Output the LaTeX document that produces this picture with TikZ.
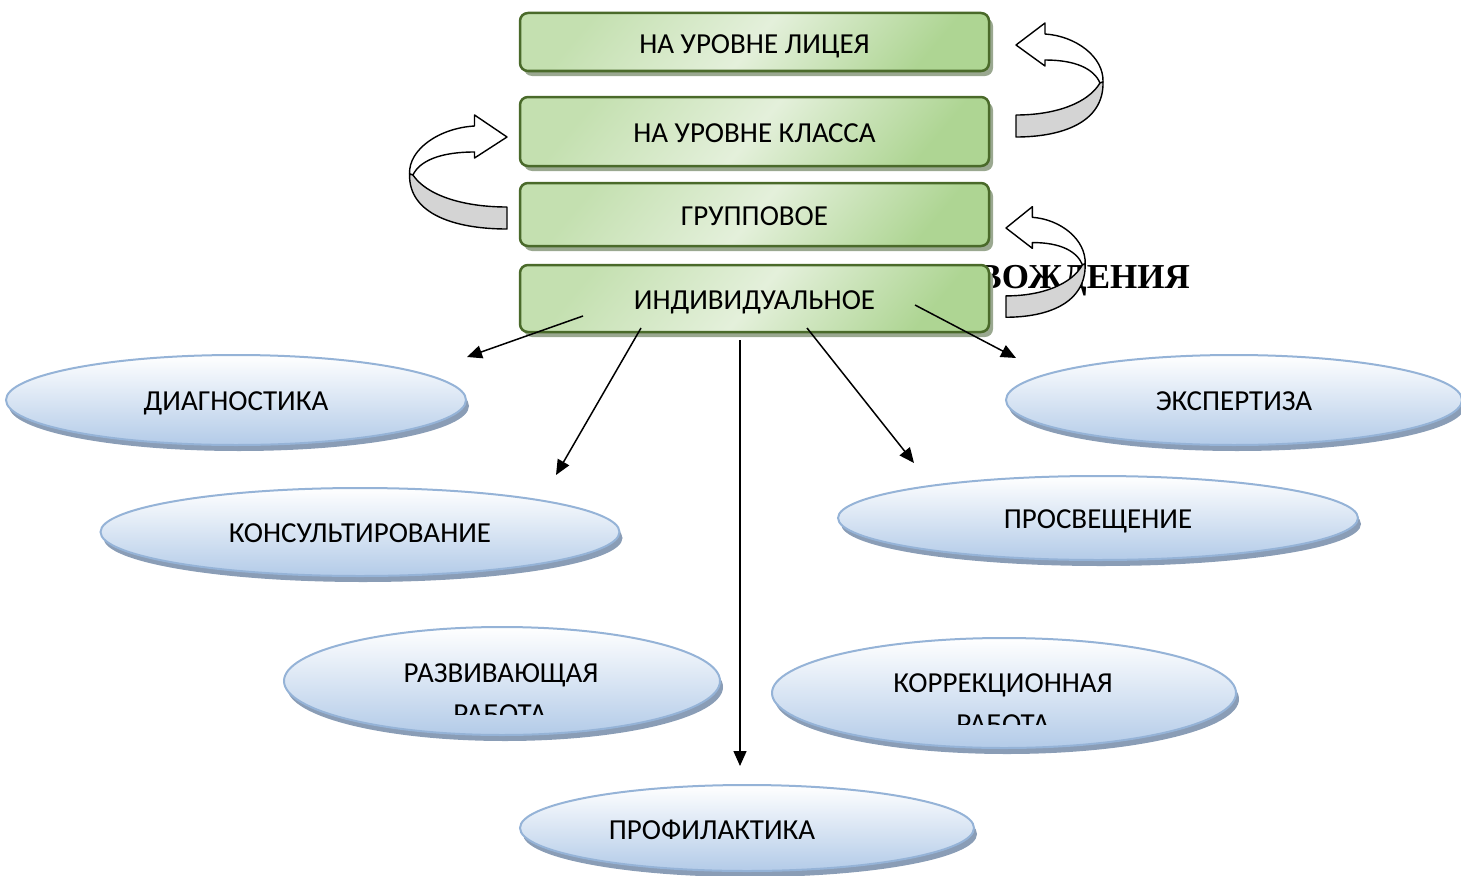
\documentclass[tikz,border=0pt]{standalone}
\usepackage{fontspec}
\setmainfont{Carlito}
\newfontfamily\headfont{Liberation Serif}
\usetikzlibrary{shapes.geometric,shadows,arrows.meta}

\definecolor{boxline}{HTML}{4A6A2A}
\definecolor{boxgreen}{HTML}{AED593}
\definecolor{boxpale}{HTML}{C4E0B0}
\definecolor{boxlight}{HTML}{E4F0DB}
\definecolor{boxshadow}{HTML}{9AA890}
\definecolor{ellline}{HTML}{95B3D7}
\definecolor{ellbottom}{HTML}{B3CBE8}
\definecolor{ellshadow}{HTML}{8A9DB6}
\definecolor{bandgray}{HTML}{D4D4D4}

% curved 3d arrow, tip at the origin
\newcommand{\ribbonarrow}{%
    \draw[fill=white,line width=1.4pt,line join=round] (0,0) -- (29,-22) -- (29,-11)
        .. controls (60,-9) and (88,12) .. (87,37) -- (84,38)
        .. controls (78,24) and (60,15) .. (29,15) -- (29,21) -- cycle;
    \draw[fill=bandgray,line width=1.4pt,line join=round] (84,38)
        .. controls (72,58) and (40,70) .. (0,70) -- (0,92)
        .. controls (45,92) and (88,78) .. (87,37) -- cycle;
}

\begin{document}
\begin{tikzpicture}[x=1pt,y=-1pt,>={Triangle[length=15pt,width=13pt]},
    level box/.style={rectangle,rounded corners=8pt,draw=boxline,line width=2.5pt,minimum width=469pt,
        left color=boxpale,right color=boxgreen,middle color=boxlight,shading angle=50,
        general shadow={fill=boxshadow,shadow xshift=4pt,shadow yshift=-5pt},
        font=\fontsize{29}{35}\selectfont,text height=22pt,text depth=0pt},
    work ell/.style={ellipse,draw=ellline,line width=2pt,inner sep=0pt,top color=white,bottom color=ellbottom,
        general shadow={fill=ellshadow,shadow xshift=3pt,shadow yshift=-6pt},
        font=\fontsize{29}{35}\selectfont,text height=20pt,text depth=0pt},
    work text/.style={inner sep=0pt,font=\fontsize{29}{35}\selectfont,text height=20pt,text depth=0pt}]

    \useasboundingbox (0,0) rectangle (1461,875);

    % heading, mostly hidden behind the boxes
    \node[font=\headfont\bfseries\fontsize{35}{40}\selectfont,anchor=base east,inner sep=0pt] (head) at (1190,288) {СОПРОВОЖДЕНИЯ};

    % levels
    \node[level box,minimum height=58pt] (licey) at (754.5,42) {НА УРОВНЕ ЛИЦЕЯ};
    \node[level box,minimum height=69pt] (klass) at (754.5,131.5) {НА УРОВНЕ КЛАССА};
    \node[level box,minimum height=63pt] (grupp) at (754.5,214.5) {ГРУППОВОЕ};
    \node[level box,minimum height=67pt] (indiv) at (754.5,298.5) {ИНДИВИДУАЛЬНОЕ};

    % curved arrows
    \begin{scope}[shift={(1016,45)}]
        \ribbonarrow
    \end{scope}
    \begin{scope}[shift={(507,137)},xscale=-1.12]
        \ribbonarrow
    \end{scope}
    \begin{scope}[shift={(1006,228)},xscale=0.91,yscale=0.97]
        \ribbonarrow
    \end{scope}

    % kinds of work
    \node[work ell,minimum width=460pt,minimum height=90pt] (diag) at (236,400) {ДИАГНОСТИКА};
    \node[work ell,minimum width=456pt,minimum height=90pt] (expert) at (1234,400) {ЭКСПЕРТИЗА};
    \node[work ell,minimum width=519pt,minimum height=88pt] (konsult) at (360,532) {КОНСУЛЬТИРОВАНИЕ};
    \node[work ell,minimum width=520pt,minimum height=84pt] (prosv) at (1098,518) {ПРОСВЕЩЕНИЕ};
    \node[work ell,minimum width=436pt,minimum height=108pt] (razv) at (502,681) {};
    \node[work ell,minimum width=464pt,minimum height=110pt] (korr) at (1004,693) {};
    \node[work ell,minimum width=454pt,minimum height=86pt] (profil) at (747,828) {};

    \node[work text] (razv1) at (501,672) {РАЗВИВАЮЩАЯ};
    \node[work text] (korr1) at (1003,682) {КОРРЕКЦИОННАЯ};
    \node[work text] (profil1) at (712,829) {ПРОФИЛАКТИКА};
    \begin{scope}
        \clip (280,600) rectangle (730,714);
        \node[work text] (razv2) at (500,713) {РАБОТА};
    \end{scope}
    \begin{scope}
        \clip (760,600) rectangle (1250,724);
        \node[work text] (korr2) at (1003,723) {РАБОТА};
    \end{scope}

    % arrows from ИНДИВИДУАЛЬНОЕ
    \coordinate (d0) at (583,316);
    \coordinate (d1) at (467,357);
    \coordinate (k0) at (641,328);
    \coordinate (k1) at (556,475);
    \coordinate (p0) at (740,340);
    \coordinate (p1) at (740,766);
    \coordinate (s0) at (807,328);
    \coordinate (s1) at (914,463);
    \coordinate (e0) at (915,305);
    \coordinate (e1) at (1016,358);

    \path[->,line width=1.5pt]
        (d0) edge (d1)
        (k0) edge (k1)
        (p0) edge (p1)
        (s0) edge (s1)
        (e0) edge (e1)
        ;
\end{tikzpicture}
\end{document}
